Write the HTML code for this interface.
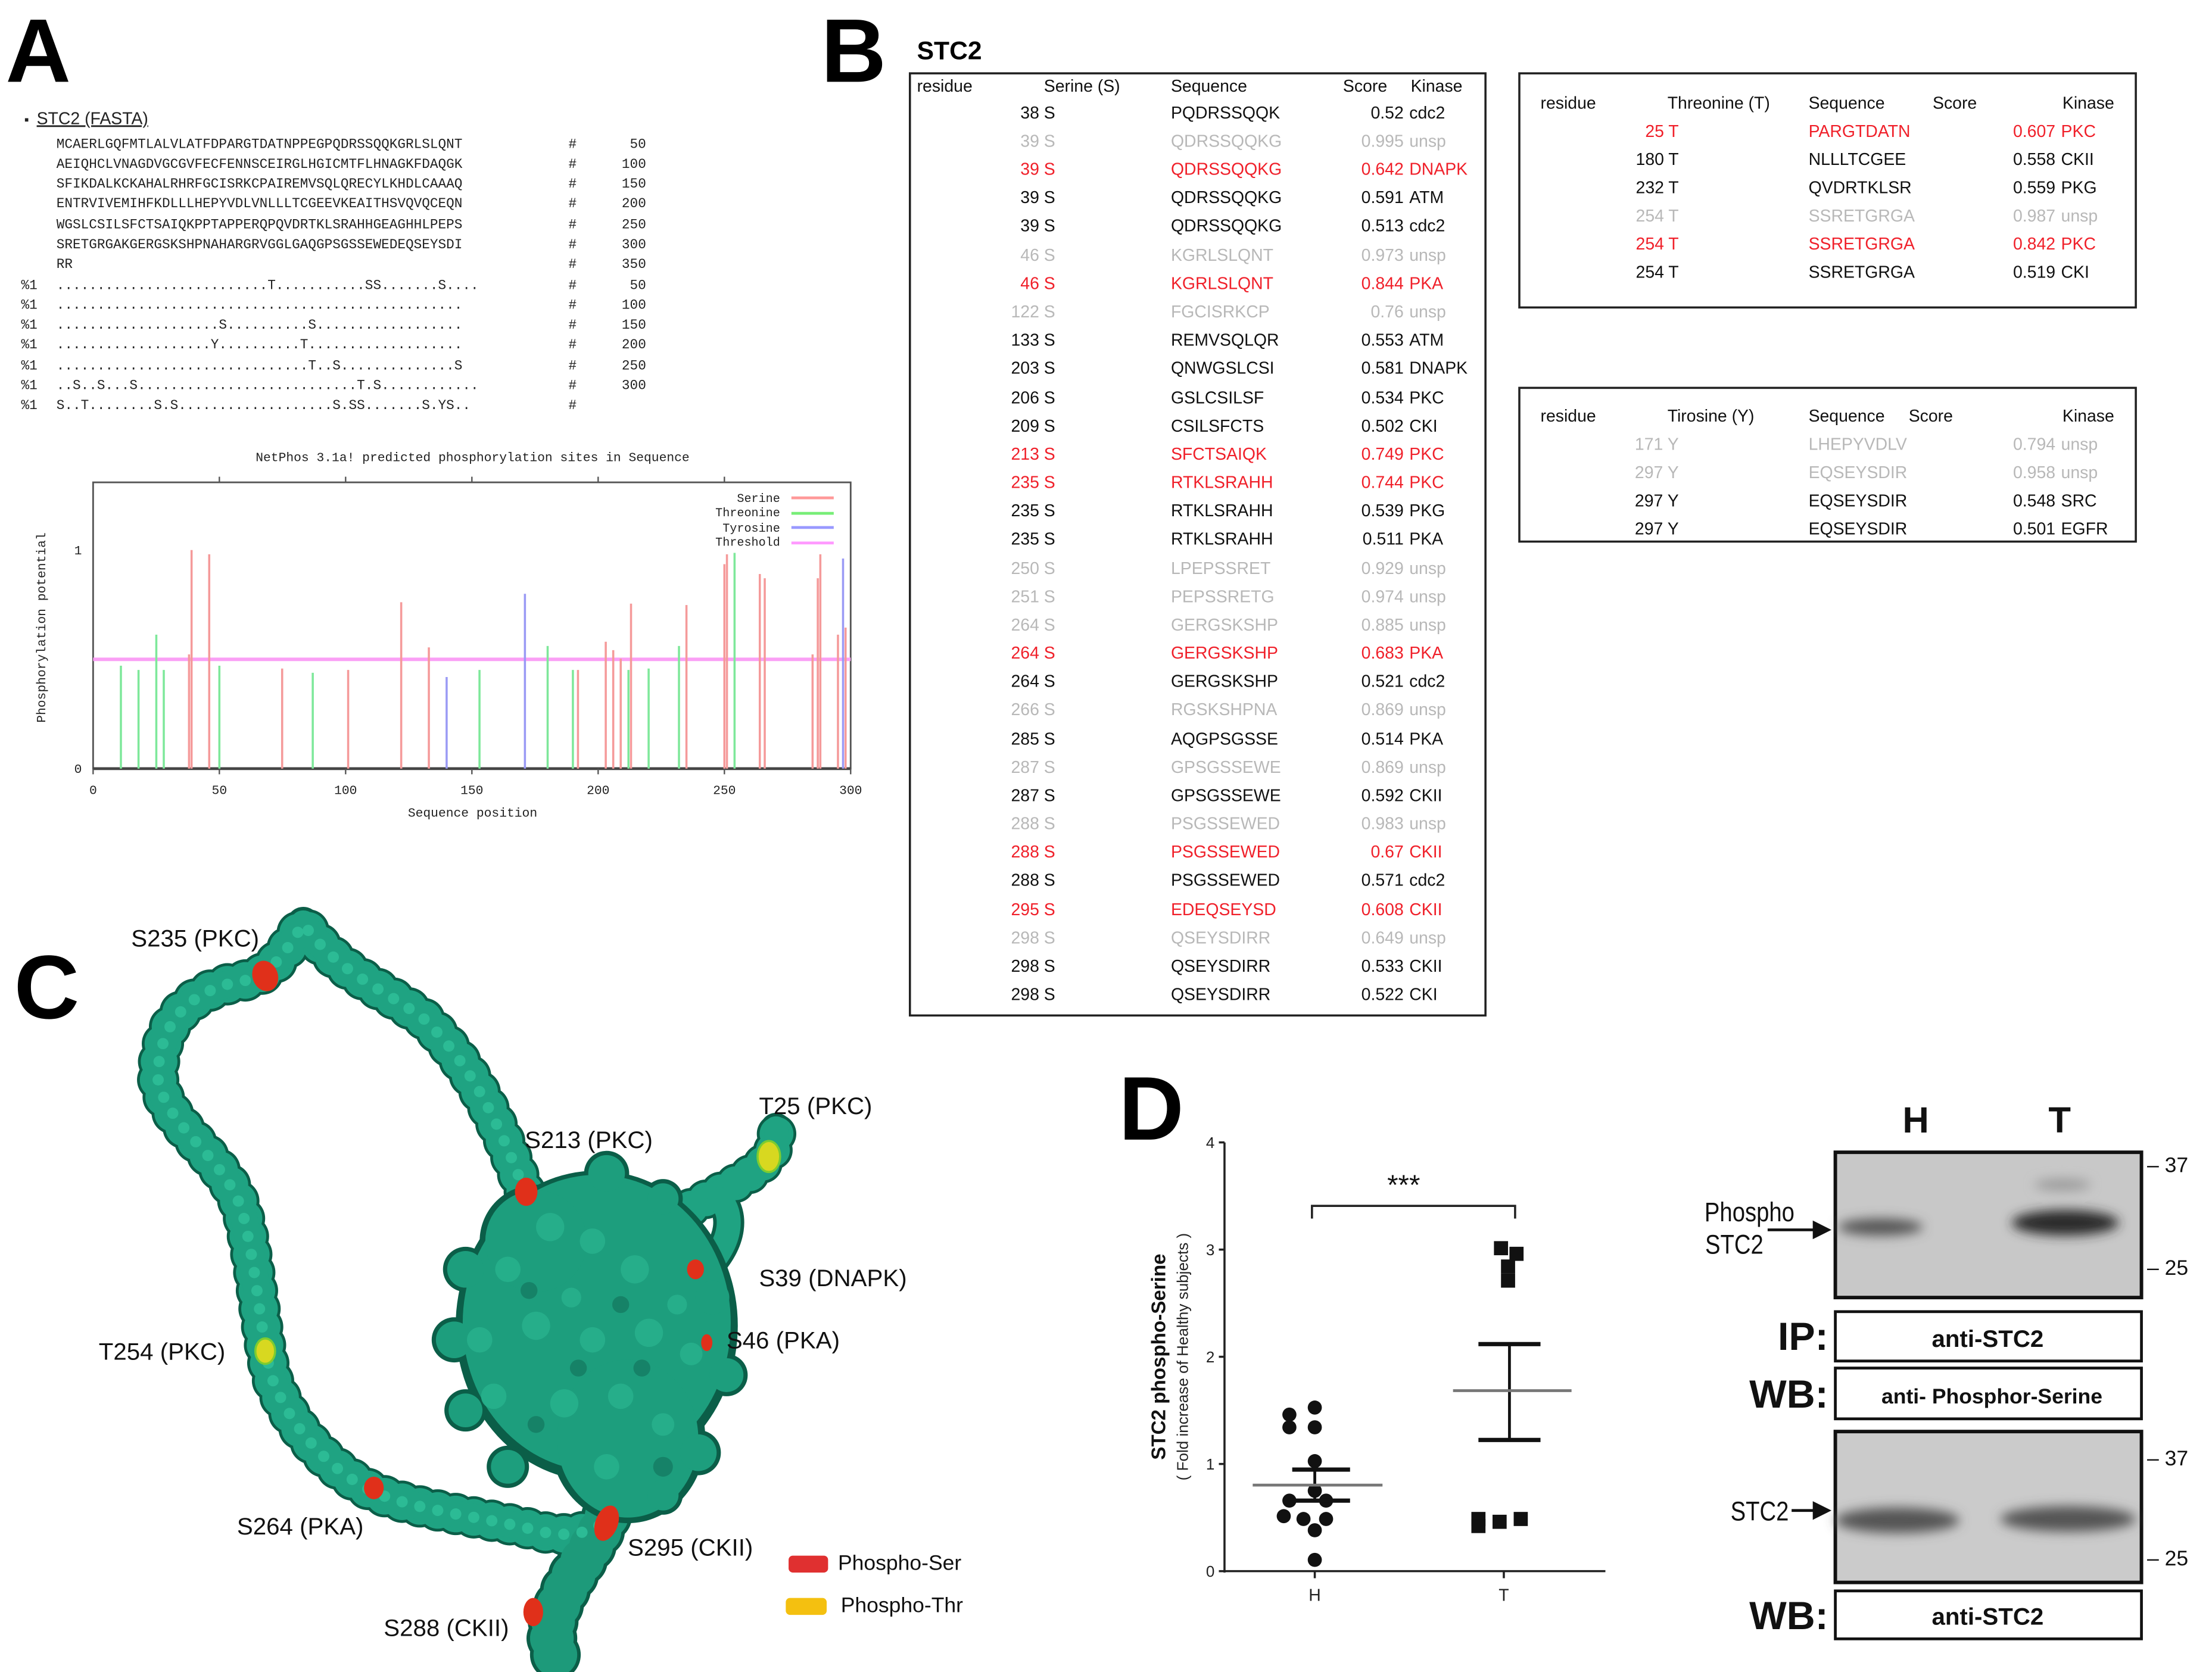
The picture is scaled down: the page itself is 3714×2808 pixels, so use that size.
<!DOCTYPE html>
<html><head><meta charset="utf-8"><style>
html,body{margin:0;padding:0;background:#fff;width:3714px;height:2808px;overflow:hidden}
svg{display:block}
.m{font-family:"Liberation Mono",monospace;font-size:9.6px;fill:#222}
.t{font-family:"Liberation Sans",sans-serif;font-size:12px}
.k{fill:#111}.g{fill:#b8b8b8}.r{fill:#f0202a}
.L{font-family:"Liberation Sans",sans-serif;font-weight:bold;font-size:64px;fill:#000}
.c{font-family:"Liberation Sans",sans-serif;font-size:17px;fill:#111}
.n{font-family:"Liberation Sans",sans-serif;font-weight:bold;fill:#111}
</style></head><body>
<svg width="3714" height="2808" viewBox="0 0 1568 1185.5" xmlns="http://www.w3.org/2000/svg">
<defs><filter id="b" x="-50%" y="-100%" width="200%" height="300%"><feGaussianBlur stdDeviation="4"/></filter></defs>
<text class="L" x="4" y="58">A</text>
<text class="L" x="582" y="58">B</text>
<text class="L" x="10" y="722">C</text>
<text class="L" x="793" y="808">D</text>

<text class="m" x="16" y="88">▪</text>
<text class="m" x="26" y="88" style="font-family:'Liberation Sans',sans-serif;font-size:12px;text-decoration:underline">STC2 (FASTA)</text>
<g class="m">
<text x="40" y="105">MCAERLGQFMTLALVLATFDPARGTDATNPPEGPQDRSSQQKGRLSLQNT</text>
<text x="40" y="119">AEIQHCLVNAGDVGCGVFECFENNSCEIRGLHGICMTFLHNAGKFDAQGK</text>
<text x="40" y="133">SFIKDALKCKAHALRHRFGCISRKCPAIREMVSQLQRECYLKHDLCAAAQ</text>
<text x="40" y="147">ENTRVIVEMIHFKDLLLHEPYVDLVNLLLTCGEEVKEAITHSVQVQCEQN</text>
<text x="40" y="162">WGSLCSILSFCTSAIQKPPTAPPERQPQVDRTKLSRAHHGEAGHHLPEPS</text>
<text x="40" y="176">SRETGRGAKGERGSKSHPNAHARGRVGGLGAQGPSGSSEWEDEQSEYSDI</text>
<text x="40" y="190">RR</text>
<text x="40" y="205">..........................T...........SS.......S....</text>
<text x="40" y="219">..................................................</text>
<text x="40" y="233">....................S..........S..................</text>
<text x="40" y="247">...................Y..........T...................</text>
<text x="40" y="262">...............................T..S..............S</text>
<text x="40" y="276">..S..S...S...........................T.S............</text>
<text x="40" y="290">S..T........S.S...................S.SS.......S.YS..</text>
</g>
<g class="m">
<text x="15" y="205">%1</text><text x="15" y="219">%1</text><text x="15" y="233">%1</text><text x="15" y="247">%1</text><text x="15" y="262">%1</text><text x="15" y="276">%1</text><text x="15" y="290">%1</text>
<text x="403" y="105">#</text><text x="403" y="119">#</text><text x="403" y="133">#</text><text x="403" y="147">#</text><text x="403" y="162">#</text><text x="403" y="176">#</text><text x="403" y="190">#</text><text x="403" y="205">#</text><text x="403" y="219">#</text><text x="403" y="233">#</text><text x="403" y="247">#</text><text x="403" y="262">#</text><text x="403" y="276">#</text><text x="403" y="290">#</text>
<g text-anchor="end">
<text x="458" y="105">50</text><text x="458" y="119">100</text><text x="458" y="133">150</text><text x="458" y="147">200</text><text x="458" y="162">250</text><text x="458" y="176">300</text><text x="458" y="190">350</text><text x="458" y="205">50</text><text x="458" y="219">100</text><text x="458" y="233">150</text><text x="458" y="247">200</text><text x="458" y="262">250</text><text x="458" y="276">300</text>
</g></g>

<text class="m" x="335" y="327" text-anchor="middle" style="font-size:9px">NetPhos 3.1a! predicted phosphorylation sites in Sequence</text>
<rect x="66" y="342" width="537" height="203" fill="none" stroke="#555" stroke-width="1.2"/>
<line x1="66" y1="545" x2="603" y2="545" stroke="#444" stroke-width="2"/>
<g stroke="#555" stroke-width="1">
<line x1="66" y1="545" x2="66" y2="549"/><line x1="155.5" y1="545" x2="155.5" y2="549"/><line x1="245" y1="545" x2="245" y2="549"/><line x1="334.5" y1="545" x2="334.5" y2="549"/><line x1="424" y1="545" x2="424" y2="549"/><line x1="513.5" y1="545" x2="513.5" y2="549"/><line x1="603" y1="545" x2="603" y2="549"/>
<line x1="155.5" y1="342" x2="155.5" y2="338"/><line x1="245" y1="342" x2="245" y2="338"/><line x1="334.5" y1="342" x2="334.5" y2="338"/><line x1="424" y1="342" x2="424" y2="338"/><line x1="513.5" y1="342" x2="513.5" y2="338"/>
</g>
<g class="m" text-anchor="middle" style="font-size:9px">
<text x="66" y="563">0</text><text x="155.5" y="563">50</text><text x="245" y="563">100</text><text x="334.5" y="563">150</text><text x="424" y="563">200</text><text x="513.5" y="563">250</text><text x="603" y="563">300</text>
<text x="335" y="579">Sequence position</text>
<text x="58" y="548" text-anchor="end">0</text><text x="58" y="393" text-anchor="end">1</text>
<text transform="translate(32,445) rotate(-90)">Phosphorylation potential</text>
</g>
<g class="m" text-anchor="end" style="font-size:8.5px">
<text x="553" y="356">Serine</text><text x="553" y="366">Threonine</text><text x="553" y="377">Tyrosine</text><text x="553" y="387">Threshold</text>
</g>
<g stroke-width="2"><line x1="561" y1="353" x2="591" y2="353" stroke="#f99"/><line x1="561" y1="364" x2="591" y2="364" stroke="#7e7"/><line x1="561" y1="374" x2="591" y2="374" stroke="#99f"/><line x1="561" y1="385" x2="591" y2="385" stroke="#f9f"/></g>
<line x1="66" y1="467.5" x2="603" y2="467.5" stroke="#fa9ff5" stroke-width="2.5"/>
<g stroke="#f59a9a" stroke-width="1.5">
<line x1="134" y1="545" x2="134" y2="464"/><line x1="135.8" y1="545" x2="135.8" y2="390"/><line x1="148.3" y1="545" x2="148.3" y2="393"/><line x1="200" y1="545" x2="200" y2="474"/><line x1="246.8" y1="545" x2="246.8" y2="475"/><line x1="284.4" y1="545" x2="284.4" y2="427"/><line x1="304" y1="545" x2="304" y2="459"/><line x1="409.7" y1="545" x2="409.7" y2="475"/><line x1="429.4" y1="545" x2="429.4" y2="455"/><line x1="434.7" y1="545" x2="434.7" y2="461"/><line x1="440" y1="545" x2="440" y2="467"/><line x1="447.3" y1="545" x2="447.3" y2="428"/><line x1="486.6" y1="545" x2="486.6" y2="429"/><line x1="513.5" y1="545" x2="513.5" y2="400"/><line x1="515.3" y1="545" x2="515.3" y2="393"/><line x1="538.6" y1="545" x2="538.6" y2="407"/><line x1="542.1" y1="545" x2="542.1" y2="410"/><line x1="576" y1="545" x2="576" y2="464"/><line x1="579.7" y1="545" x2="579.7" y2="410"/><line x1="581.5" y1="545" x2="581.5" y2="393"/><line x1="594" y1="545" x2="594" y2="450"/><line x1="599.4" y1="545" x2="599.4" y2="445"/>
</g>
<g stroke="#7ee89a" stroke-width="1.5">
<line x1="85.7" y1="545" x2="85.7" y2="472"/><line x1="98.2" y1="545" x2="98.2" y2="475"/><line x1="110.8" y1="545" x2="110.8" y2="450"/><line x1="116.1" y1="545" x2="116.1" y2="475"/><line x1="155.5" y1="545" x2="155.5" y2="472"/><line x1="221.7" y1="545" x2="221.7" y2="477"/><line x1="339.9" y1="545" x2="339.9" y2="475"/><line x1="388.2" y1="545" x2="388.2" y2="458"/><line x1="406.1" y1="545" x2="406.1" y2="475"/><line x1="445.5" y1="545" x2="445.5" y2="475"/><line x1="459.8" y1="545" x2="459.8" y2="474"/><line x1="481.3" y1="545" x2="481.3" y2="458"/><line x1="520.7" y1="545" x2="520.7" y2="392"/>
</g>
<g stroke="#9a9af5" stroke-width="1.5">
<line x1="316.6" y1="545" x2="316.6" y2="480"/><line x1="372.1" y1="545" x2="372.1" y2="421"/><line x1="597.6" y1="545" x2="597.6" y2="396"/>
</g>

<text x="650" y="42" style="font-family:'Liberation Sans',sans-serif;font-weight:bold;font-size:18px">STC2</text>
<rect x="645" y="52" width="408" height="668" fill="none" stroke="#222" stroke-width="1.5"/>
<g class="t k"><text x="650" y="65">residue</text><text x="740" y="65">Serine (S)</text><text x="830" y="65">Sequence</text><text x="952" y="65">Score</text><text x="1000" y="65">Kinase</text></g>
<g class="t">
<g class="k"><text x="748" y="84" text-anchor="end">38 S</text><text x="830" y="84">PQDRSSQQK</text><text x="995" y="84" text-anchor="end">0.52</text><text x="999" y="84">cdc2</text></g>
<g class="g"><text x="748" y="104" text-anchor="end">39 S</text><text x="830" y="104">QDRSSQQKG</text><text x="995" y="104" text-anchor="end">0.995</text><text x="999" y="104">unsp</text></g>
<g class="r"><text x="748" y="124" text-anchor="end">39 S</text><text x="830" y="124">QDRSSQQKG</text><text x="995" y="124" text-anchor="end">0.642</text><text x="999" y="124">DNAPK</text></g>
<g class="k"><text x="748" y="144" text-anchor="end">39 S</text><text x="830" y="144">QDRSSQQKG</text><text x="995" y="144" text-anchor="end">0.591</text><text x="999" y="144">ATM</text></g>
<g class="k"><text x="748" y="164" text-anchor="end">39 S</text><text x="830" y="164">QDRSSQQKG</text><text x="995" y="164" text-anchor="end">0.513</text><text x="999" y="164">cdc2</text></g>
<g class="g"><text x="748" y="185" text-anchor="end">46 S</text><text x="830" y="185">KGRLSLQNT</text><text x="995" y="185" text-anchor="end">0.973</text><text x="999" y="185">unsp</text></g>
<g class="r"><text x="748" y="205" text-anchor="end">46 S</text><text x="830" y="205">KGRLSLQNT</text><text x="995" y="205" text-anchor="end">0.844</text><text x="999" y="205">PKA</text></g>
<g class="g"><text x="748" y="225" text-anchor="end">122 S</text><text x="830" y="225">FGCISRKCP</text><text x="995" y="225" text-anchor="end">0.76</text><text x="999" y="225">unsp</text></g>
<g class="k"><text x="748" y="245" text-anchor="end">133 S</text><text x="830" y="245">REMVSQLQR</text><text x="995" y="245" text-anchor="end">0.553</text><text x="999" y="245">ATM</text></g>
<g class="k"><text x="748" y="265" text-anchor="end">203 S</text><text x="830" y="265">QNWGSLCSI</text><text x="995" y="265" text-anchor="end">0.581</text><text x="999" y="265">DNAPK</text></g>
<g class="k"><text x="748" y="286" text-anchor="end">206 S</text><text x="830" y="286">GSLCSILSF</text><text x="995" y="286" text-anchor="end">0.534</text><text x="999" y="286">PKC</text></g>
<g class="k"><text x="748" y="306" text-anchor="end">209 S</text><text x="830" y="306">CSILSFCTS</text><text x="995" y="306" text-anchor="end">0.502</text><text x="999" y="306">CKI</text></g>
<g class="r"><text x="748" y="326" text-anchor="end">213 S</text><text x="830" y="326">SFCTSAIQK</text><text x="995" y="326" text-anchor="end">0.749</text><text x="999" y="326">PKC</text></g>
<g class="r"><text x="748" y="346" text-anchor="end">235 S</text><text x="830" y="346">RTKLSRAHH</text><text x="995" y="346" text-anchor="end">0.744</text><text x="999" y="346">PKC</text></g>
<g class="k"><text x="748" y="366" text-anchor="end">235 S</text><text x="830" y="366">RTKLSRAHH</text><text x="995" y="366" text-anchor="end">0.539</text><text x="999" y="366">PKG</text></g>
<g class="k"><text x="748" y="386" text-anchor="end">235 S</text><text x="830" y="386">RTKLSRAHH</text><text x="995" y="386" text-anchor="end">0.511</text><text x="999" y="386">PKA</text></g>
<g class="g"><text x="748" y="407" text-anchor="end">250 S</text><text x="830" y="407">LPEPSSRET</text><text x="995" y="407" text-anchor="end">0.929</text><text x="999" y="407">unsp</text></g>
<g class="g"><text x="748" y="427" text-anchor="end">251 S</text><text x="830" y="427">PEPSSRETG</text><text x="995" y="427" text-anchor="end">0.974</text><text x="999" y="427">unsp</text></g>
<g class="g"><text x="748" y="447" text-anchor="end">264 S</text><text x="830" y="447">GERGSKSHP</text><text x="995" y="447" text-anchor="end">0.885</text><text x="999" y="447">unsp</text></g>
<g class="r"><text x="748" y="467" text-anchor="end">264 S</text><text x="830" y="467">GERGSKSHP</text><text x="995" y="467" text-anchor="end">0.683</text><text x="999" y="467">PKA</text></g>
<g class="k"><text x="748" y="487" text-anchor="end">264 S</text><text x="830" y="487">GERGSKSHP</text><text x="995" y="487" text-anchor="end">0.521</text><text x="999" y="487">cdc2</text></g>
<g class="g"><text x="748" y="507" text-anchor="end">266 S</text><text x="830" y="507">RGSKSHPNA</text><text x="995" y="507" text-anchor="end">0.869</text><text x="999" y="507">unsp</text></g>
<g class="k"><text x="748" y="528" text-anchor="end">285 S</text><text x="830" y="528">AQGPSGSSE</text><text x="995" y="528" text-anchor="end">0.514</text><text x="999" y="528">PKA</text></g>
<g class="g"><text x="748" y="548" text-anchor="end">287 S</text><text x="830" y="548">GPSGSSEWE</text><text x="995" y="548" text-anchor="end">0.869</text><text x="999" y="548">unsp</text></g>
<g class="k"><text x="748" y="568" text-anchor="end">287 S</text><text x="830" y="568">GPSGSSEWE</text><text x="995" y="568" text-anchor="end">0.592</text><text x="999" y="568">CKII</text></g>
<g class="g"><text x="748" y="588" text-anchor="end">288 S</text><text x="830" y="588">PSGSSEWED</text><text x="995" y="588" text-anchor="end">0.983</text><text x="999" y="588">unsp</text></g>
<g class="r"><text x="748" y="608" text-anchor="end">288 S</text><text x="830" y="608">PSGSSEWED</text><text x="995" y="608" text-anchor="end">0.67</text><text x="999" y="608">CKII</text></g>
<g class="k"><text x="748" y="628" text-anchor="end">288 S</text><text x="830" y="628">PSGSSEWED</text><text x="995" y="628" text-anchor="end">0.571</text><text x="999" y="628">cdc2</text></g>
<g class="r"><text x="748" y="649" text-anchor="end">295 S</text><text x="830" y="649">EDEQSEYSD</text><text x="995" y="649" text-anchor="end">0.608</text><text x="999" y="649">CKII</text></g>
<g class="g"><text x="748" y="669" text-anchor="end">298 S</text><text x="830" y="669">QSEYSDIRR</text><text x="995" y="669" text-anchor="end">0.649</text><text x="999" y="669">unsp</text></g>
<g class="k"><text x="748" y="689" text-anchor="end">298 S</text><text x="830" y="689">QSEYSDIRR</text><text x="995" y="689" text-anchor="end">0.533</text><text x="999" y="689">CKII</text></g>
<g class="k"><text x="748" y="709" text-anchor="end">298 S</text><text x="830" y="709">QSEYSDIRR</text><text x="995" y="709" text-anchor="end">0.522</text><text x="999" y="709">CKI</text></g>
</g>

<rect x="1077" y="52" width="437" height="166" fill="none" stroke="#222" stroke-width="1.5"/>
<g class="t k"><text x="1092" y="77">residue</text><text x="1182" y="77">Threonine (T)</text><text x="1282" y="77">Sequence</text><text x="1370" y="77">Score</text><text x="1462" y="77">Kinase</text></g>
<g class="t">
<g class="r"><text x="1190" y="97" text-anchor="end">25 T</text><text x="1282" y="97">PARGTDATN</text><text x="1457" y="97" text-anchor="end">0.607</text><text x="1461" y="97">PKC</text></g>
<g class="k"><text x="1190" y="117" text-anchor="end">180 T</text><text x="1282" y="117">NLLLTCGEE</text><text x="1457" y="117" text-anchor="end">0.558</text><text x="1461" y="117">CKII</text></g>
<g class="k"><text x="1190" y="137" text-anchor="end">232 T</text><text x="1282" y="137">QVDRTKLSR</text><text x="1457" y="137" text-anchor="end">0.559</text><text x="1461" y="137">PKG</text></g>
<g class="g"><text x="1190" y="157" text-anchor="end">254 T</text><text x="1282" y="157">SSRETGRGA</text><text x="1457" y="157" text-anchor="end">0.987</text><text x="1461" y="157">unsp</text></g>
<g class="r"><text x="1190" y="177" text-anchor="end">254 T</text><text x="1282" y="177">SSRETGRGA</text><text x="1457" y="177" text-anchor="end">0.842</text><text x="1461" y="177">PKC</text></g>
<g class="k"><text x="1190" y="197" text-anchor="end">254 T</text><text x="1282" y="197">SSRETGRGA</text><text x="1457" y="197" text-anchor="end">0.519</text><text x="1461" y="197">CKI</text></g>
</g>
<rect x="1077" y="275" width="437" height="109" fill="none" stroke="#222" stroke-width="1.5"/>
<g class="t k"><text x="1092" y="299">residue</text><text x="1182" y="299">Tirosine (Y)</text><text x="1282" y="299">Sequence</text><text x="1353" y="299">Score</text><text x="1462" y="299">Kinase</text></g>
<g class="t">
<g class="g"><text x="1190" y="319" text-anchor="end">171 Y</text><text x="1282" y="319">LHEPYVDLV</text><text x="1457" y="319" text-anchor="end">0.794</text><text x="1461" y="319">unsp</text></g>
<g class="g"><text x="1190" y="339" text-anchor="end">297 Y</text><text x="1282" y="339">EQSEYSDIR</text><text x="1457" y="339" text-anchor="end">0.958</text><text x="1461" y="339">unsp</text></g>
<g class="k"><text x="1190" y="359" text-anchor="end">297 Y</text><text x="1282" y="359">EQSEYSDIR</text><text x="1457" y="359" text-anchor="end">0.548</text><text x="1461" y="359">SRC</text></g>
<g class="k"><text x="1190" y="379" text-anchor="end">297 Y</text><text x="1282" y="379">EQSEYSDIR</text><text x="1457" y="379" text-anchor="end">0.501</text><text x="1461" y="379">EGFR</text></g>
</g>

<!-- Panel C protein -->
<g fill="none" stroke-linecap="round" stroke-linejoin="round">
<g stroke="#0b5e48">
<path d="M372,845 C355,800 335,755 300,722 C270,700 240,690 215,655 C205,670 195,690 175,695 C140,700 112,720 112,765 C118,800 160,820 172,860 C182,900 184,940 192,975 C205,1010 230,1040 265,1058 C300,1072 340,1075 380,1085 C405,1092 425,1085 432,1075" stroke-width="30" stroke-dasharray="0 13"/>
<path d="M372,845 C355,800 335,755 300,722 C270,700 240,690 215,655 C205,670 195,690 175,695 C140,700 112,720 112,765 C118,800 160,820 172,860 C182,900 184,940 192,975 C205,1010 230,1040 265,1058 C300,1072 340,1075 380,1085 C405,1092 425,1085 432,1075" stroke-width="24"/>
<path d="M430,1075 C420,1100 400,1120 392,1150 C390,1165 392,1172 395,1175" stroke-width="36" stroke-dasharray="0 12"/>
<path d="M470,870 C495,850 515,845 535,830 C548,820 552,810 550,800" stroke-width="28" stroke-dasharray="0 12"/>
<path d="M470,870 C495,850 515,845 535,830 C548,820 552,810 550,800" stroke-width="22"/>
<path d="M500,900 C520,880 520,860 510,850" stroke-width="22"/>
</g>
<g stroke="#1fa382">
<path d="M372,845 C355,800 335,755 300,722 C270,700 240,690 215,655 C205,670 195,690 175,695 C140,700 112,720 112,765 C118,800 160,820 172,860 C182,900 184,940 192,975 C205,1010 230,1040 265,1058 C300,1072 340,1075 380,1085 C405,1092 425,1085 432,1075" stroke-width="26" stroke-dasharray="0 13"/>
<path d="M372,845 C355,800 335,755 300,722 C270,700 240,690 215,655 C205,670 195,690 175,695 C140,700 112,720 112,765 C118,800 160,820 172,860 C182,900 184,940 192,975 C205,1010 230,1040 265,1058 C300,1072 340,1075 380,1085 C405,1092 425,1085 432,1075" stroke-width="19"/>
<path d="M430,1075 C420,1100 400,1120 392,1150 C390,1165 392,1172 395,1175" stroke-width="31" stroke-dasharray="0 12" stroke="#1d9a7a"/>
<path d="M470,870 C495,850 515,845 535,830 C548,820 552,810 550,800" stroke-width="24" stroke-dasharray="0 12"/>
<path d="M470,870 C495,850 515,845 535,830 C548,820 552,810 550,800" stroke-width="17"/>
<path d="M500,900 C520,880 520,860 510,850" stroke-width="17"/>
</g>
<path d="M372,845 C355,800 335,755 300,722 C270,700 240,690 215,655 C205,670 195,690 175,695 C140,700 112,720 112,765 C118,800 160,820 172,860 C182,900 184,940 192,975 C205,1010 230,1040 265,1058 C300,1072 340,1075 380,1085 C405,1092 425,1085 432,1075" stroke="#2cbb95" stroke-width="8" stroke-dasharray="0 13"/>
</g>
<g fill="#0b5e48">
<ellipse cx="423" cy="940" rx="100" ry="110"/><ellipse cx="380" cy="880" rx="40" ry="40"/><ellipse cx="445" cy="1020" rx="55" ry="60"/>
<circle cx="330" cy="900" r="16"/><circle cx="322" cy="950" r="16"/><circle cx="330" cy="1000" r="15"/><circle cx="360" cy="1040" r="15"/><circle cx="505" cy="920" r="15"/><circle cx="515" cy="975" r="15"/><circle cx="495" cy="1030" r="16"/><circle cx="470" cy="1060" r="14"/><circle cx="430" cy="832" r="16"/><circle cx="470" cy="850" r="14"/>
</g>
<g fill="#1d9e7d">
<ellipse cx="423" cy="938" rx="95" ry="105"/><ellipse cx="380" cy="880" rx="36" ry="36"/><ellipse cx="445" cy="1020" rx="50" ry="56"/>
<circle cx="330" cy="900" r="13"/><circle cx="322" cy="950" r="13"/><circle cx="330" cy="1000" r="12"/><circle cx="360" cy="1040" r="12"/><circle cx="505" cy="920" r="12"/><circle cx="515" cy="975" r="12"/><circle cx="495" cy="1030" r="13"/><circle cx="470" cy="1060" r="11"/><circle cx="430" cy="832" r="13"/><circle cx="470" cy="850" r="11"/>
</g>
<g fill="#27b08c" opacity="0.9">
<circle cx="360" cy="900" r="9"/><circle cx="390" cy="870" r="10"/><circle cx="420" cy="880" r="9"/><circle cx="450" cy="900" r="10"/><circle cx="340" cy="950" r="9"/><circle cx="380" cy="940" r="10"/><circle cx="420" cy="950" r="9"/><circle cx="460" cy="945" r="10"/><circle cx="490" cy="960" r="8"/><circle cx="350" cy="990" r="9"/><circle cx="400" cy="995" r="10"/><circle cx="440" cy="990" r="9"/><circle cx="470" cy="1010" r="8"/><circle cx="430" cy="1040" r="9"/><circle cx="405" cy="920" r="7"/><circle cx="480" cy="925" r="7"/>
</g>
<g fill="#12705a" opacity="0.6">
<circle cx="375" cy="915" r="6"/><circle cx="440" cy="925" r="6"/><circle cx="410" cy="970" r="6"/><circle cx="455" cy="970" r="6"/><circle cx="380" cy="1010" r="6"/><circle cx="470" cy="1040" r="7"/>
</g>
<g fill="#e0301a">
<ellipse cx="188" cy="692" rx="9" ry="11" transform="rotate(-20 188 692)"/><ellipse cx="373" cy="845" rx="8" ry="10"/><ellipse cx="493" cy="900" rx="6" ry="7"/><ellipse cx="501" cy="952" rx="4" ry="6"/><ellipse cx="265" cy="1055" rx="7" ry="8"/><ellipse cx="430" cy="1080" rx="8" ry="13" transform="rotate(20 430 1080)"/><ellipse cx="378" cy="1143" rx="7" ry="10"/>
</g>
<g fill="#d8d820" stroke="#7ccc30" stroke-width="1.5">
<ellipse cx="545" cy="820" rx="8" ry="11"/><ellipse cx="188" cy="958" rx="7" ry="9"/>
</g>
<g class="c">
<text x="93" y="671">S235 (PKC)</text><text x="538" y="790">T25 (PKC)</text><text x="372" y="814">S213 (PKC)</text><text x="538" y="912">S39 (DNAPK)</text><text x="515" y="956">S46 (PKA)</text><text x="70" y="964">T254 (PKC)</text><text x="168" y="1088">S264 (PKA)</text><text x="445" y="1103">S295 (CKII)</text><text x="272" y="1160">S288 (CKII)</text>
<text x="594" y="1113" style="font-size:15px">Phospho-Ser</text><text x="596" y="1143" style="font-size:15px">Phospho-Thr</text>
</g>
<rect x="559" y="1103" width="28" height="12" rx="3" fill="#e03030"/>
<rect x="557" y="1133" width="29" height="12" rx="3" fill="#f4c010"/>

<!-- Panel D scatter -->
<g stroke="#222" stroke-width="1.5" fill="none">
<line x1="868" y1="810" x2="868" y2="1115"/><line x1="868" y1="1114" x2="1138" y2="1114"/>
<line x1="864" y1="810" x2="868" y2="810"/><line x1="864" y1="886" x2="868" y2="886"/><line x1="864" y1="962" x2="868" y2="962"/><line x1="864" y1="1038" x2="868" y2="1038"/><line x1="864" y1="1114" x2="868" y2="1114"/>
<line x1="932" y1="1114" x2="932" y2="1119"/><line x1="1066" y1="1114" x2="1066" y2="1119"/>
<path d="M930,864 V855 H1074 V864"/>
</g>
<g font-family="Liberation Sans,sans-serif" font-size="11" fill="#222" text-anchor="end">
<text x="861" y="814">4</text><text x="861" y="890">3</text><text x="861" y="966">2</text><text x="861" y="1042">1</text><text x="861" y="1118">0</text>
</g>
<g font-family="Liberation Sans,sans-serif" font-size="12" fill="#222" text-anchor="middle"><text x="932" y="1135">H</text><text x="1066" y="1135">T</text></g>
<text x="995" y="847" text-anchor="middle" font-family="Liberation Sans,sans-serif" font-size="20" fill="#111">***</text>
<text transform="translate(826,962) rotate(-90)" text-anchor="middle" class="n" font-size="14">STC2  phospho-Serine</text>
<text transform="translate(842,962) rotate(-90)" text-anchor="middle" font-family="Liberation Sans,sans-serif" font-size="11" fill="#222">( Fold increase of Healthy subjects )</text>
<g fill="#111">
<circle cx="932" cy="1106" r="5"/><circle cx="932" cy="1085" r="5"/><circle cx="924" cy="1077" r="5"/><circle cx="940" cy="1077" r="5"/><circle cx="910" cy="1075" r="5"/><circle cx="914" cy="1064" r="5"/><circle cx="940" cy="1064" r="5"/><circle cx="932" cy="1057" r="5"/><circle cx="932" cy="1036" r="5"/><circle cx="932" cy="1012" r="5"/><circle cx="914" cy="1012" r="5"/><circle cx="914" cy="1003" r="5"/><circle cx="932" cy="998" r="5"/>
<rect x="1043" y="1072" width="10" height="10"/><rect x="1043" y="1077" width="10" height="10"/><rect x="1058" y="1074" width="10" height="10"/><rect x="1073" y="1072" width="10" height="10"/>
<rect x="1059" y="880" width="10" height="10"/><rect x="1070" y="884" width="10" height="10"/><rect x="1064" y="893" width="10" height="10"/><rect x="1064" y="903" width="10" height="10"/>
</g>
<g stroke="#111" stroke-width="3"><line x1="916" y1="1042" x2="957" y2="1042"/><line x1="916" y1="1064" x2="957" y2="1064"/><line x1="932" y1="1042" x2="932" y2="1064" stroke-width="2"/>
<line x1="1048" y1="953" x2="1092" y2="953"/><line x1="1048" y1="1021" x2="1092" y2="1021"/><line x1="1070" y1="953" x2="1070" y2="1021" stroke-width="2"/></g>
<g stroke="#777" stroke-width="2"><line x1="888" y1="1053" x2="980" y2="1053"/><line x1="1030" y1="986" x2="1114" y2="986"/></g>

<!-- Western blots -->
<g class="n" font-size="26" text-anchor="middle"><text x="1358" y="803">H</text><text x="1460" y="803">T</text></g>
<rect x="1301" y="817" width="217" height="103" fill="#c8c8c8" stroke="#111" stroke-width="2.5"/>
<g filter="url(#b)"><ellipse cx="1333" cy="870" rx="30" ry="6" fill="#555"/><ellipse cx="1464" cy="867" rx="38" ry="9" fill="#2a2a2a"/><ellipse cx="1462" cy="840" rx="20" ry="4" fill="#999"/></g>
<rect x="1301" y="930" width="217" height="35" fill="#fff" stroke="#111" stroke-width="2"/>
<rect x="1301" y="970" width="217" height="36" fill="#fff" stroke="#111" stroke-width="2"/>
<rect x="1301" y="1015" width="217" height="107" fill="#cbcbcb" stroke="#111" stroke-width="2.5"/>
<g filter="url(#b)"><ellipse cx="1345" cy="1078" rx="44" ry="9" fill="#555"/><ellipse cx="1466" cy="1077" rx="48" ry="9" fill="#555"/></g>
<rect x="1301" y="1128" width="217" height="34" fill="#fff" stroke="#111" stroke-width="2"/>
<g font-family="Liberation Sans,sans-serif" fill="#111" font-size="19">
<text x="1272" y="866" text-anchor="end" transform="translate(1272,0) scale(0.85,1) translate(-1272,0)">Phospho</text>
<text x="1250" y="889" text-anchor="end" transform="translate(1250,0) scale(0.85,1) translate(-1250,0)">STC2</text>
<text x="1268" y="1078" text-anchor="end" transform="translate(1268,0) scale(0.85,1) translate(-1268,0)">STC2</text>
</g>
<g stroke="#111" stroke-width="2" fill="#111"><line x1="1253" y1="872" x2="1288" y2="872"/><path d="M1296,872 L1286,867 L1286,877Z"/><line x1="1270" y1="1071" x2="1288" y2="1071"/><path d="M1296,1071 L1286,1066 L1286,1076Z"/></g>
<g class="n" font-size="28" text-anchor="end"><text x="1296" y="957">IP:</text><text x="1296" y="998">WB:</text><text x="1296" y="1155">WB:</text></g>
<g class="n" font-size="17" text-anchor="middle"><text x="1409" y="955">anti-STC2</text><text x="1412" y="995" font-size="15">anti- Phosphor-Serine</text><text x="1409" y="1152">anti-STC2</text></g>
<g font-family="Liberation Sans,sans-serif" font-size="15" fill="#111">
<text x="1522" y="831">– 37</text><text x="1522" y="904">– 25</text><text x="1522" y="1039">– 37</text><text x="1522" y="1110">– 25</text>
</g>
</svg>
</body></html>
